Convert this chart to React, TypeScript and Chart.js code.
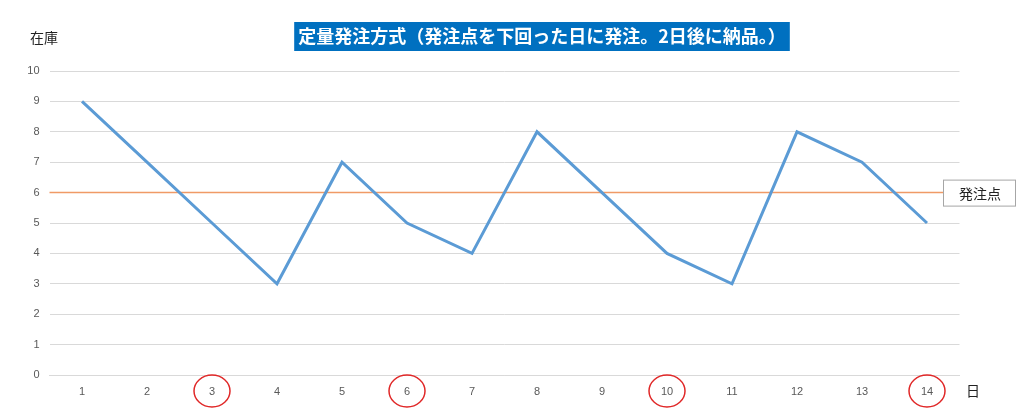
import React, { useEffect, useRef } from "react";
import { Chart, registerables } from "chart.js";

Chart.register(...registerables);

const days: string[] = ["1", "2", "3", "4", "5", "6", "7", "8", "9", "10", "11", "12", "13", "14"];
const stock: number[] = [9, 7, 5, 3, 7, 5, 4, 8, 6, 4, 3, 8, 7, 5];
const ORDER_POINT = 6;
const orderDays: string[] = ["3", "6", "10", "14"];
const TITLE = "定量発注方式（発注点を下回った日に発注。2日後に納品。）";
const Y_TITLE = "在庫";
const X_TITLE = "日";
const ORDER_LABEL = "発注点";

const JP = '"Noto Sans CJK JP", "Noto Sans", sans-serif';

const overlay = {
  id: "overlay",
  beforeDatasetsDraw(chart: any) {
    const { ctx, chartArea, scales } = chart;
    const y = scales.y.getPixelForValue(ORDER_POINT);
    ctx.save();
    ctx.strokeStyle = "#F09A66";
    ctx.lineWidth = 1.5;
    ctx.beginPath();
    ctx.moveTo(chartArea.left, y);
    ctx.lineTo(943, y);
    ctx.stroke();
    ctx.restore();
  },
  afterDraw(chart: any) {
    const { ctx, chartArea, scales } = chart;
    ctx.save();
    // title box
    ctx.font = `bold 18px ${JP}`;
    const tw = ctx.measureText(TITLE).width;
    const cx = 542;
    const bw = tw + 8;
    ctx.fillStyle = "#0070C0";
    ctx.fillRect(cx - bw / 2, 22, bw, 29);
    ctx.fillStyle = "#FFFFFF";
    ctx.textAlign = "center";
    ctx.textBaseline = "middle";
    ctx.fillText(TITLE, cx, 36.5);

    // axis titles
    ctx.fillStyle = "#222222";
    ctx.font = `14px ${JP}`;
    ctx.textAlign = "left";
    ctx.fillText(Y_TITLE, 30, 38);
    ctx.fillText(X_TITLE, 966, 391);

    // order point label box
    const y6 = scales.y.getPixelForValue(ORDER_POINT);
    ctx.fillStyle = "#FFFFFF";
    ctx.fillRect(943, y6 - 13, 73, 27);
    ctx.strokeStyle = "#A6A6A6";
    ctx.lineWidth = 1;
    ctx.strokeRect(943.5, y6 - 12.5, 72, 26);
    ctx.fillStyle = "#222222";
    ctx.font = `14px ${JP}`;
    ctx.textAlign = "center";
    ctx.fillText(ORDER_LABEL, 980, y6 + 1);

    // circles around order days
    ctx.strokeStyle = "#E02828";
    ctx.lineWidth = 1.5;
    const ly = chartArea.bottom + 16;
    orderDays.forEach((d) => {
      const idx = days.indexOf(d);
      const x = scales.x.getPixelForValue(idx);
      ctx.beginPath();
      ctx.ellipse(x, ly, 18, 16, 0, 0, Math.PI * 2);
      ctx.stroke();
    });
    ctx.restore();
  },
};

export default function App() {
  const ref = useRef<HTMLCanvasElement | null>(null);
  useEffect(() => {
    if (!ref.current) return;
    const chart = new Chart(ref.current, {
      type: "line",
      data: {
        labels: days,
        datasets: [
          {
            data: stock,
            borderColor: "#5B9BD5",
            borderWidth: 3,
            pointRadius: 0,
            tension: 0,
            fill: false,
          },
        ],
      },
      options: {
        animation: false,
        responsive: false,
        maintainAspectRatio: false,
        devicePixelRatio: 1,
        layout: { padding: { left: 0, right: 64.5, top: 71, bottom: 0 } },
        plugins: {
          legend: { display: false },
          title: { display: false },
          tooltip: { enabled: false },
        },
        scales: {
          x: {
            offset: true,
            grid: { display: false, drawTicks: false },
            border: { display: true, color: "#D9D9D9", width: 1 },
            ticks: {
              color: "#595959",
              font: { size: 11, family: '"Liberation Sans", Arial, sans-serif' },
              padding: 10,
              maxRotation: 0,
              autoSkip: false,
            },
            afterFit: (s: any) => {
              s.height = 42;
            },
          },
          y: {
            min: 0,
            max: 10,
            grid: { color: "#D9D9D9", lineWidth: 1, drawTicks: false },
            border: { display: false },
            ticks: {
              stepSize: 1,
              color: "#595959",
              font: { size: 11, family: '"Liberation Sans", Arial, sans-serif' },
              padding: 10,
            },
            afterFit: (s: any) => {
              s.width = 49.5;
            },
          },
        },
      },
      plugins: [overlay],
    });
    return () => chart.destroy();
  }, []);
  return (
    <div style={{ position: "fixed", left: 0, top: 0, width: 1024, height: 417, background: "#fff" }}>
      <canvas ref={ref} width={1024} height={417} style={{ display: "block" }} />
    </div>
  );
}
